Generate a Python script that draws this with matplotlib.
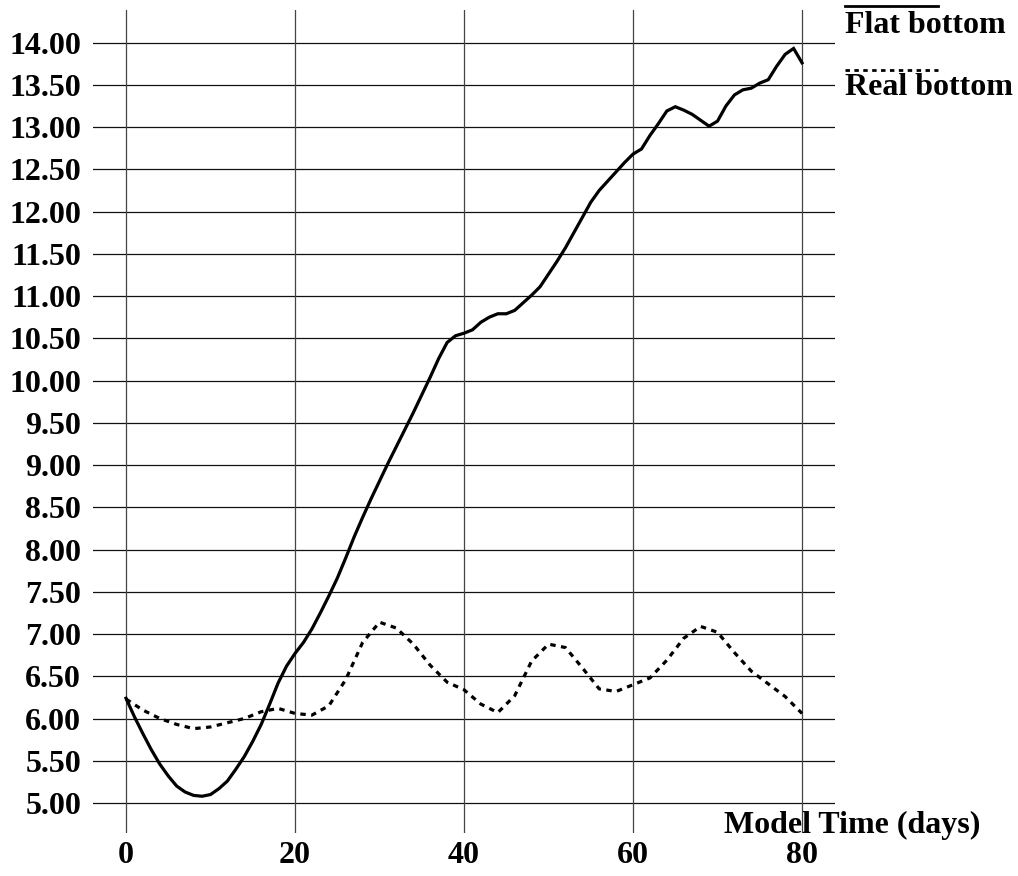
import matplotlib
matplotlib.use("Agg")
import matplotlib.pyplot as plt
from matplotlib.lines import Line2D

plt.rcParams['font.family'] = ['Liberation Serif', 'DejaVu Serif']
plt.rcParams['font.weight'] = 'bold'
plt.rcParams['font.size'] = 23

# Flat bottom run, one value per model day
flat_days = list(range(0, 81))
flat_bottom = [6.24, 6.02, 5.82, 5.63, 5.46, 5.32, 5.20, 5.13, 5.09, 5.08,
               5.10, 5.17, 5.26, 5.40, 5.55, 5.73, 5.93, 6.17, 6.42, 6.62,
               6.77, 6.90, 7.06, 7.25, 7.45, 7.66, 7.90, 8.15, 8.38, 8.60,
               8.81, 9.02, 9.22, 9.42, 9.62, 9.83, 10.04, 10.26, 10.45, 10.53,
               10.56, 10.60, 10.69, 10.75, 10.79, 10.79, 10.83, 10.92, 11.01, 11.11,
               11.26, 11.41, 11.57, 11.75, 11.93, 12.11, 12.25, 12.36, 12.47, 12.58,
               12.68, 12.74, 12.90, 13.04, 13.19, 13.24, 13.20, 13.15, 13.08, 13.01,
               13.07, 13.25, 13.38, 13.44, 13.46, 13.52, 13.56, 13.72, 13.86, 13.93,
               13.76]

# Real bottom run, every second day
real_days = list(range(0, 81, 2))
real_bottom = [6.23, 6.10, 6.00, 5.93, 5.88, 5.90, 5.95, 6.00, 6.08, 6.12,
               6.06, 6.04, 6.15, 6.46, 6.90, 7.14, 7.07, 6.88, 6.63, 6.43,
               6.34, 6.17, 6.07, 6.27, 6.68, 6.88, 6.84, 6.60, 6.35, 6.32,
               6.40, 6.48, 6.69, 6.95, 7.09, 7.02, 6.78, 6.56, 6.41, 6.26,
               6.06]

x_ticks = [0, 20, 40, 60, 80]
y_ticks = [5.0 + 0.5 * i for i in range(19)]

W, H = 1018, 876
fig = plt.figure(figsize=(W / 100, H / 100), dpi=100)
ax = fig.add_axes([93 / W, 1 - 833 / H, 742 / W, 823 / H])
ax.set_xlim(-3.905, 83.9)
ax.set_ylim(4.645, 14.385)

for y in y_ticks:
    ax.axhline(y, color='#111111', lw=0.9, zorder=1)
for x in x_ticks:
    ax.axvline(x, color='#444444', lw=0.9, zorder=1)

ax.plot(flat_days, flat_bottom, color='black', lw=2.3, zorder=3,
        solid_joinstyle='miter')
ax.plot(real_days, real_bottom, color='black', lw=2.3, zorder=3,
        linestyle=(0, (1.7, 1.7)))

for s in ax.spines.values():
    s.set_visible(False)
ax.set_xticks(x_ticks)
ax.set_xticklabels([str(v) for v in x_ticks])
ax.set_yticks(y_ticks)
ax.set_yticklabels(['%.2f' % v for v in y_ticks])
ax.tick_params(length=0)
ax.tick_params(axis='y', pad=8.5)
ax.tick_params(axis='x', pad=5.5)

fig.text(724 / W, 1 - 833 / H, 'Model Time (days)', ha='left', va='baseline')

# legend drawn by hand like the original
fig.add_artist(Line2D([845 / W, 938 / W], [1 - 6 / H, 1 - 6 / H],
                      color='black', lw=2.0))
fig.text(845 / W, 1 - 33 / H, 'Flat bottom', ha='left', va='baseline')
fig.add_artist(Line2D([845 / W, 938 / W], [1 - 70 / H, 1 - 70 / H],
                      color='black', lw=2.0, linestyle=(0, (1.6, 1.6))))
fig.text(845 / W, 1 - 95 / H, 'Real bottom', ha='left', va='baseline')

fig.savefig('out.png', dpi=100)
